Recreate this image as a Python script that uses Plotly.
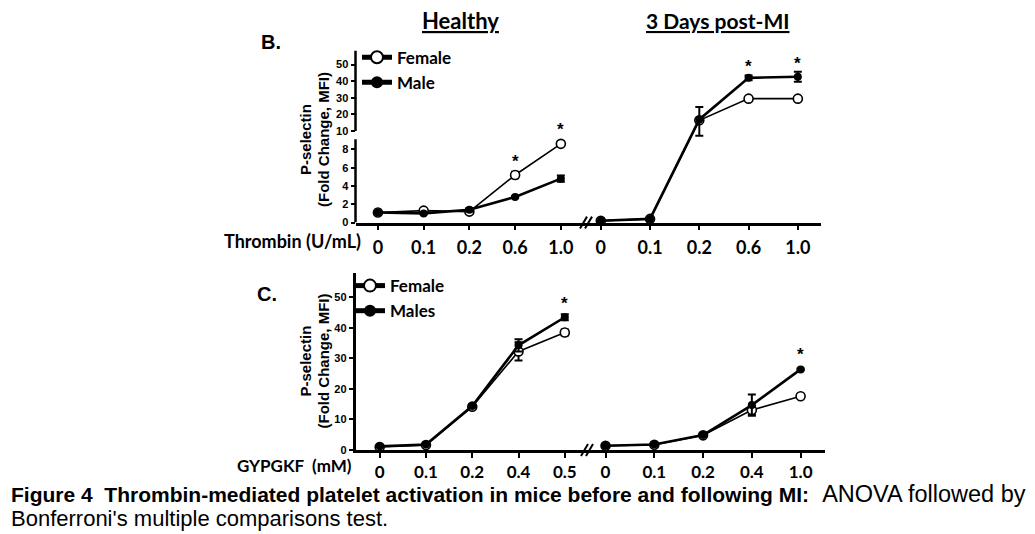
import plotly.graph_objects as go

W, H = 1035, 534
def PX(x): return x / W
def PY(y): return 1 - y / H

# ---------------- data ----------------
thrombin_labels = ["0", "0.1", "0.2", "0.6", "1.0"]
gypgkf_healthy_labels = ["0", "0.1", "0.2", "0.4", "0.5"]
gypgkf_mi_labels = ["0", "0.1", "0.2", "0.4", "1.0"]

# Panel B – thrombin, healthy
b_h_female = [1.1, 1.3, 1.2, 5.2, 8.6]
b_h_female_err = [0.1, 0.1, 0.2, 0.35, 0.15]
b_h_male = [1.1, 1.0, 1.4, 2.8, 4.8]
b_h_male_err = [0.1, 0.1, 0.2, 0.1, 0.35]
# Panel B – thrombin, 3 days post-MI
b_mi_female = [0.2, 0.4, 16.5, 29.5, 29.5]
b_mi_female_err = [0.0, 0.0, 1.0, 0.5, 0.5]
b_mi_male = [0.2, 0.4, 17.0, 42.0, 42.7]
b_mi_male_err = [0.0, 0.0, 7.5, 1.5, 3.0]

# Panel C – GYPGKF, healthy
c_h_female = [1.0, 1.6, 14.2, 32.3, 38.5]
c_h_female_err = [0.2, 0.2, 0.5, 3.0, 1.0]
c_h_male = [1.2, 1.8, 14.4, 34.3, 43.5]
c_h_male_err = [0.2, 0.2, 0.5, 2.0, 1.0]
# Panel C – GYPGKF, post-MI
c_mi_female = [1.4, 1.7, 4.8, 13.1, 17.6]
c_mi_female_err = [0.2, 0.2, 0.3, 1.5, 0.3]
c_mi_male = [1.4, 1.8, 4.9, 14.7, 26.4]
c_mi_male_err = [0.2, 0.2, 0.3, 3.5, 0.3]

b_lower_ticks = [0, 2, 4, 6, 8]
b_upper_ticks = [10, 20, 30, 40, 50]
c_ticks = [0, 10, 20, 30, 40, 50]

# ---------------- broken-axis transform for panel B ----------------
K = 0.1816
def brk(v):
    return v if v <= 9.5 else 10 + (v - 10) * K

def berr(vals, errs):
    plus = [brk(v + e) - brk(v) for v, e in zip(vals, errs)]
    minus = [brk(v) - brk(max(v - e, 0)) for v, e in zip(vals, errs)]
    return plus, minus

FONT_TXT = "Lato"
ARIAL = "Liberation Sans, Arial"

def female_trace(x, y, ep, em, xa, ya, name, show, legend):
    return go.Scatter(
        x=x, y=y, xaxis=xa, yaxis=ya, name=name, showlegend=show, legend=legend,
        mode="lines+markers", cliponaxis=False,
        line=dict(color="black", width=1.6),
        marker=dict(symbol="circle", size=9, color="white", line=dict(color="black", width=1.6)),
        error_y=dict(type="data", symmetric=False, array=ep, arrayminus=em,
                     color="black", thickness=2, width=4),
    )

def male_trace(x, y, ep, em, xa, ya, name, show, legend):
    return go.Scatter(
        x=x, y=y, xaxis=xa, yaxis=ya, name=name, showlegend=show, legend=legend,
        mode="lines+markers", cliponaxis=False,
        line=dict(color="black", width=2.6),
        marker=dict(symbol="circle", size=8, color="black"),
        error_y=dict(type="data", symmetric=False, array=ep, arrayminus=em,
                     color="black", thickness=2, width=4),
    )

fig = go.Figure()
xi = list(range(5))

# Panel B
p, m = berr(b_h_female, b_h_female_err)
fig.add_trace(female_trace(xi, [brk(v) for v in b_h_female], p, m, "x", "y", "Female", True, "legend"))
p, m = berr(b_h_male, b_h_male_err)
fig.add_trace(male_trace(xi, [brk(v) for v in b_h_male], p, m, "x", "y", "Male", True, "legend"))
p, m = berr(b_mi_female, b_mi_female_err)
fig.add_trace(female_trace(xi, [brk(v) for v in b_mi_female], p, m, "x2", "y", "Female", False, "legend"))
p, m = berr(b_mi_male, b_mi_male_err)
fig.add_trace(male_trace(xi, [brk(v) for v in b_mi_male], p, m, "x2", "y", "Male", False, "legend"))

# Panel C
fig.add_trace(female_trace(xi, c_h_female, c_h_female_err, c_h_female_err, "x3", "y2", "Female", True, "legend2"))
fig.add_trace(male_trace(xi, c_h_male, c_h_male_err, c_h_male_err, "x3", "y2", "Males", True, "legend2"))
fig.add_trace(female_trace(xi, c_mi_female, c_mi_female_err, c_mi_female_err, "x4", "y2", "Female", False, "legend2"))
fig.add_trace(male_trace(xi, c_mi_male, c_mi_male_err, c_mi_male_err, "x4", "y2", "Males", False, "legend2"))

xcommon = dict(showline=True, linecolor="black", linewidth=2.5, ticks="outside", ticklen=5,
               tickwidth=2, tickcolor="black", showgrid=False, zeroline=False,
               tickvals=xi, fixedrange=True)
b_tickfont = dict(family=FONT_TXT, size=18, color="black", weight="bold")
c_tickfont = dict(family=FONT_TXT, size=17, color="black", weight="bold")
yfont = dict(family=ARIAL, size=11, color="black", weight="bold")

b_ytickvals = [brk(v) for v in b_lower_ticks + b_upper_ticks]
b_yticktext = [str(v) for v in b_lower_ticks + b_upper_ticks]

legfont = dict(family=FONT_TXT, size=17, color="black", weight="bold")
fig.update_layout(
    width=W, height=H, margin=dict(l=0, r=0, t=0, b=0),
    paper_bgcolor="white", plot_bgcolor="white",
    xaxis=dict(xcommon, domain=[PX(347.5), PX(578)], range=[-0.49, 4.55], anchor="y",
               ticktext=thrombin_labels, tickfont=b_tickfont, ticklabelstandoff=2),
    xaxis2=dict(xcommon, domain=[PX(578), PX(813)], range=[-0.3, 4.47], anchor="y",
                ticktext=thrombin_labels, tickfont=b_tickfont, ticklabelstandoff=2),
    yaxis=dict(domain=[PY(217), PY(43)], range=[0, 18.8], anchor="x", showline=False,
               ticks="outside", ticklen=4, tickwidth=2, tickcolor="black",
               tickvals=b_ytickvals, ticktext=b_yticktext, tickfont=yfont,
               showgrid=False, zeroline=False, fixedrange=True),
    xaxis3=dict(xcommon, domain=[PX(347.5), PX(579)], range=[-0.523, 4.48], anchor="y2",
                ticktext=gypgkf_healthy_labels, tickfont=c_tickfont, ticklabelstandoff=0),
    xaxis4=dict(xcommon, domain=[PX(579), PX(817)], range=[-0.38, 4.5], anchor="y2",
                ticktext=gypgkf_mi_labels, tickfont=c_tickfont, ticklabelstandoff=0),
    yaxis2=dict(domain=[PY(447), PY(268)], range=[0, 58], anchor="x3", showline=True,
                linecolor="black", linewidth=2.5,
                ticks="outside", ticklen=4, tickwidth=2, tickcolor="black",
                tickvals=c_ticks, tickfont=yfont,
                showgrid=False, zeroline=False, fixedrange=True),
    legend=dict(x=PX(349), y=PY(32), xanchor="left", yanchor="top", font=legfont,
                bgcolor="rgba(0,0,0,0)", itemsizing="constant", traceorder="normal",
                tracegroupgap=0),
    legend2=dict(x=PX(342), y=PY(263), xanchor="left", yanchor="top", font=legfont,
                 bgcolor="rgba(0,0,0,0)", itemsizing="constant", traceorder="normal",
                 tracegroupgap=0),
    showlegend=True,
)

# broken y-axis line for panel B
fig.add_shape(type="line", xref="x domain", yref="y", x0=0, x1=0, y0=0, y1=9.1,
              line=dict(color="black", width=2.5))
fig.add_shape(type="line", xref="x domain", yref="y", x0=0, x1=0, y0=10, y1=18.8,
              line=dict(color="black", width=2.5))

# x-axis break marks
for bx, by in [(578, 217), (579, 447)]:
    for dx in (-2.5, 2.5):
        fig.add_shape(type="line", xref="paper", yref="paper",
                      x0=PX(bx + dx - 3.5), y0=PY(by + 6), x1=PX(bx + dx + 3.5), y1=PY(by - 6),
                      line=dict(color="black", width=2))

ann = []
def text(x, y, s, size, family=ARIAL, xanchor="center", bold=True, angle=0):
    ann.append(dict(x=PX(x), y=PY(y), xref="paper", yref="paper", text=s, showarrow=False,
                    xanchor=xanchor, yanchor="middle", textangle=angle,
                    font=dict(family=family, size=size, color="black",
                              weight="bold" if bold else "normal")))

text(452.5, 13, "<u>Healthy</u>", 22, FONT_TXT)
text(709, 13, "<u>3 Days post-MI</u>", 21, FONT_TXT)
text(263, 34, "B.", 20)
text(259, 289, "C.", 20)
for cy in (133, 357):
    text(297.5, cy, "P-selectin", 15, angle=-90)
    text(315.5, cy, "(Fold Change, MFI)", 15, angle=-90)
text(355, 236, "Thrombin (U/mL)", 18, FONT_TXT, xanchor="right")
text(346, 463, "GYPGKF\u00a0\u00a0(mM)", 17, FONT_TXT, xanchor="right")
text(1, 492, "<b>Figure 4\u00a0\u00a0Thrombin-mediated platelet activation in mice before and following MI:</b>"
     "<span style='font-size:23.5px'>\u00a0\u00a0ANOVA followed by</span>", 21, bold=False, xanchor="left")
text(1, 516, "Bonferroni's multiple comparisons test.", 22, bold=False, xanchor="left")

# significance asterisks, placed relative to data points
def star(xa, ya, i, ytop, shift):
    ann.append(dict(x=i, y=ytop, xref=xa, yref=ya, text="*", showarrow=False,
                    xanchor="center", yanchor="middle", yshift=shift,
                    font=dict(family=ARIAL, size=17, color="black", weight="bold")))

star("x", "y", 3, brk(b_h_female[3] + b_h_female_err[3]), 10)
star("x", "y", 4, brk(b_h_female[4] + b_h_female_err[4]), 13)
star("x2", "y", 3, brk(b_mi_male[3] + b_mi_male_err[3]), 9)
star("x2", "y", 4, brk(b_mi_male[4] + b_mi_male_err[4]), 8)
star("x3", "y2", 4, c_h_male[4] + c_h_male_err[4], 11)
star("x4", "y2", 4, c_mi_male[4] + c_mi_male_err[4], 14)

fig.update_layout(annotations=ann)
fig.write_html("out.html")
